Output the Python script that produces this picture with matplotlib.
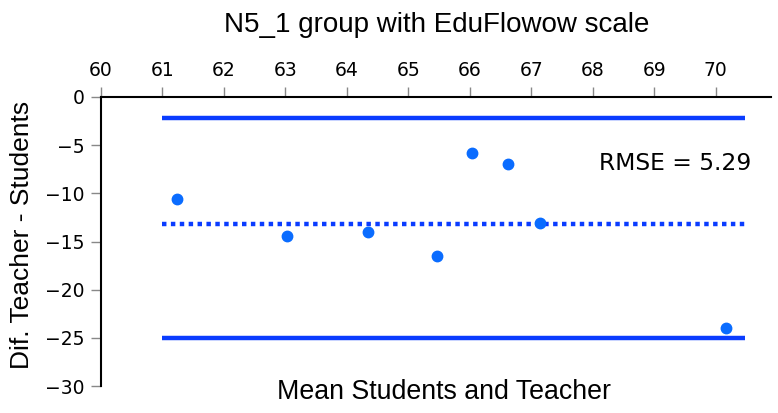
import matplotlib.pyplot as plt

# Bland-Altman style data
mean_vals = [61.24, 63.02, 64.35, 65.47, 66.03, 66.62, 67.14, 70.17]
diff_vals = [-10.6, -14.45, -14.0, -16.5, -5.85, -7.0, -13.05, -24.0]
mean_diff = -13.2
upper_loa = -2.2
lower_loa = -25.0
line_range = [61.0, 70.48]
x_ticks = [60, 61, 62, 63, 64, 65, 66, 67, 68, 69, 70]
y_ticks = [0, -5, -10, -15, -20, -25, -30]
rmse = 5.29

plt.rcParams['font.family'] = ['DejaVu Sans']
label_font = 'Liberation Sans'

fig = plt.figure(figsize=(7.78, 4.13), dpi=100)
ax = fig.add_axes([101 / 778, 1 - 386 / 413, (771 - 101) / 778, (386 - 97) / 413])

line_color = '#0a3cff'
dot_color = '#0a6cff'

ax.plot(line_range, [upper_loa, upper_loa], color=line_color, lw=3.2, solid_capstyle='butt')
ax.plot(line_range, [lower_loa, lower_loa], color=line_color, lw=3.2, solid_capstyle='butt')
ax.plot(line_range, [mean_diff, mean_diff], color=line_color, lw=3.2, linestyle=(0, (1, 1)))
ax.plot(mean_vals, diff_vals, 'o', color=dot_color, markersize=7.5, zorder=5)

ax.text(68.1, -6.9, 'RMSE = %.2f' % rmse, fontsize=16.8, va='center', ha='left')

ax.set_xlim(60, 70.9)
ax.set_ylim(-30, 0)
ax.set_xticks(x_ticks)
ax.set_yticks(y_ticks)
ax.set_yticklabels(['0', '\u22125', '\u221210', '\u221215', '\u221220', '\u221225', '\u221230'])

ax.xaxis.tick_top()
ax.spines['bottom'].set_visible(False)
ax.spines['right'].set_visible(False)
ax.spines['top'].set_linewidth(1.5)
ax.spines['left'].set_linewidth(1.5)
ax.tick_params(axis='both', colors='#888888', labelcolor='black', labelsize=13.5, length=7, width=1, pad=5)

fig.text(437 / 778, 1 - 25 / 413, 'N5_1 group with EduFlowow scale', fontsize=20,
         family=label_font, ha='center', va='center')
fig.text(444 / 778, 1 - 392 / 413, 'Mean Students and Teacher', fontsize=19.3,
         family=label_font, ha='center', va='center')
fig.text(22 / 778, 1 - 235 / 413, 'Dif. Teacher - Students', fontsize=19,
         family=label_font, ha='center', va='center', rotation=90)

fig.savefig('out.png', dpi=100)
